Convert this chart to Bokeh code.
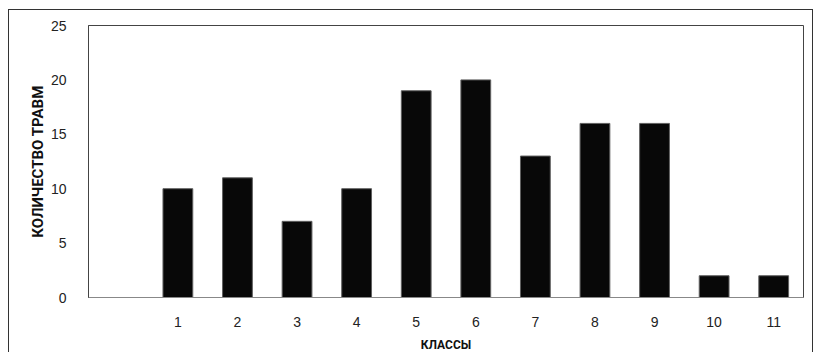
from bokeh.plotting import figure
from bokeh.models import Range1d, FixedTicker
from bokeh.embed import file_html
from bokeh.resources import INLINE

# data
classes = ["1", "2", "3", "4", "5", "6", "7", "8", "9", "10", "11"]
injuries = [10, 11, 7, 10, 19, 20, 13, 16, 16, 2, 2]
y_ticks = [0, 5, 10, 15, 20, 25]
x_label = "КЛАССЫ"
y_label = "КОЛИЧЕСТВО ТРАВМ"

x_pos = [int(c) for c in classes]

p = figure(
    width=805, height=345,
    output_backend="svg", toolbar_location=None,
    x_range=Range1d(-0.5, 11.5), y_range=Range1d(0, 25),
    min_border_left=79, min_border_right=11, min_border_top=15, min_border_bottom=58,
)
p.styles = {"border-left": "1px solid #333", "border-top": "1px solid #333",
            "border-right": "1px solid #333", "margin-left": "8px", "margin-top": "9px"}

p.vbar(x=x_pos, top=injuries, width=0.5, fill_color="#080808", line_color="#606060", line_width=1)

p.grid.visible = False
p.outline_line_color = "#444444"
p.outline_line_width = 1
p.background_fill_color = "white"
p.border_fill_color = "white"

xa = p.xaxis[0]
xa.ticker = FixedTicker(ticks=x_pos)
xa.axis_label = x_label
xa.axis_line_color = "#888888"
xa.major_tick_line_color = None
xa.minor_tick_line_color = None
xa.major_label_standoff = 13
xa.axis_label_standoff = 8
xa.major_label_text_font = "Liberation Sans"
xa.major_label_text_font_size = "14px"
xa.major_label_text_color = "#222222"
xa.axis_label_text_font = "Roboto"
xa.axis_label_text_font_style = "bold"
xa.axis_label_text_font_size = "12px"
xa.axis_label_text_color = "#111111"

ya = p.yaxis[0]
ya.ticker = FixedTicker(ticks=y_ticks)
ya.axis_label = y_label
ya.axis_line_color = "#444444"
ya.major_tick_line_color = None
ya.minor_tick_line_color = None
ya.major_label_standoff = 16
ya.axis_label_standoff = 1
ya.major_label_text_font = "Liberation Sans"
ya.major_label_text_font_size = "14px"
ya.major_label_text_color = "#222222"
ya.axis_label_text_font = "Roboto"
ya.axis_label_text_font_style = "bold"
ya.axis_label_text_font_size = "15px"
ya.axis_label_text_color = "#111111"

open("out.html", "w").write(file_html(p, INLINE))
